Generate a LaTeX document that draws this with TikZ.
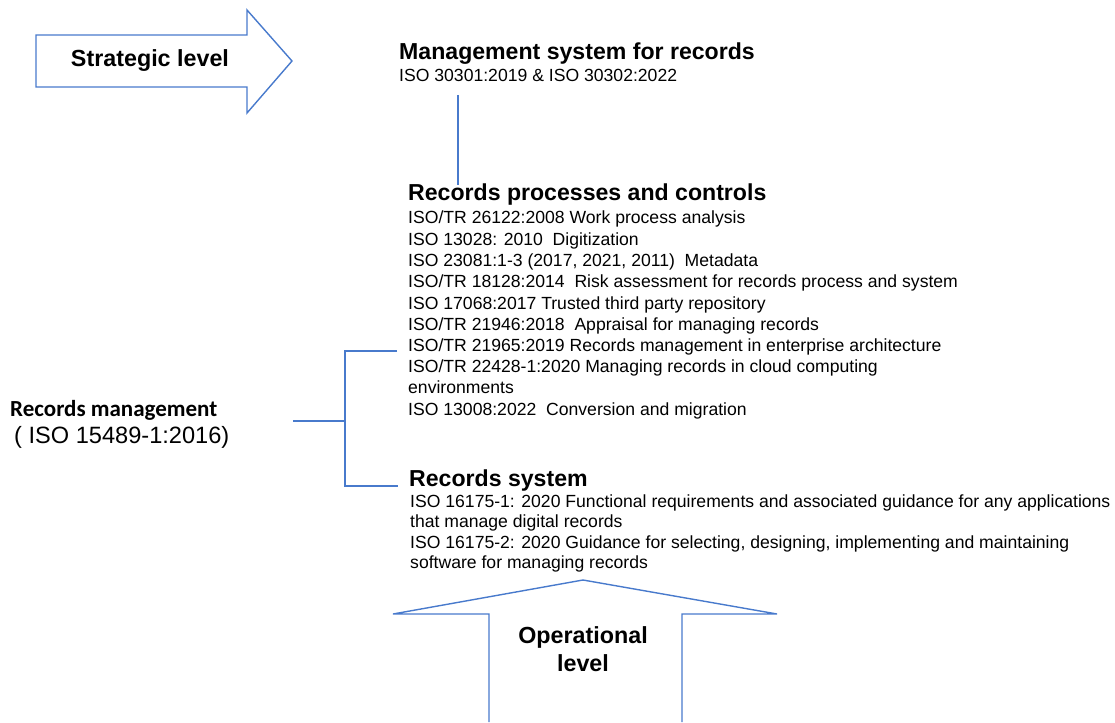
\documentclass[tikz,border=0pt]{standalone}
\usepackage{fontspec}
\setmainfont{Liberation Sans}
\newfontfamily\calfont{Carlito}
\definecolor{lineblue}{RGB}{72,122,204}
\tikzset{
  shapeline/.style={draw=lineblue, line width=1.4pt, line join=miter},
  conn/.style={draw=lineblue, line width=1.4pt},
  body/.style={anchor=base west, inner sep=0pt, font=\fontsize{17.6}{20}\selectfont},
  title/.style={anchor=base west, inner sep=0pt, font=\fontsize{23.1}{26}\selectfont\bfseries},
  big/.style={inner sep=0pt, align=center, font=\fontsize{23.3}{28}\selectfont\bfseries},
}
\begin{document}
\begin{tikzpicture}[x=1pt,y=-1pt]
\useasboundingbox (0,0) rectangle (1115,722);
% strategic arrow
\draw[shapeline] (36,35) -- (247,35) -- (247,10) -- (292,61) -- (247,113) -- (247,87) -- (36,87) -- cycle;
\node[big] (strat) at (150,61) {Strategic level};
% operational arrow
\draw[shapeline] (489,722) -- (489,614) -- (393,614) -- (583,580) -- (777,614) -- (682,614) -- (682,722);
\node[big] (oper) at (583,649) {Operational\\level};
% management system
\node[title] (mstitle) at (399,60) {Management system for records};
\node[body] (ms1) at (399,81.5) {ISO 30301:2019 \& ISO 30302:2022};
\coordinate (vtop) at (458,95);
\coordinate (vbot) at (458,185);
\draw[conn] (vtop) -- (vbot);
% records processes
\node[title] (rptitle) at (408,200.5) {Records processes and controls};
\node[body] (rp1) at (408,223) {ISO/TR 26122:2008 Work process analysis};
\node[body] (rp2) at (408,245) {ISO 13028: 2010\ \ Digitization};
\node[body] (rp3) at (408,266) {ISO 23081:1-3 (2017, 2021, 2011)\ \ Metadata};
\node[body] (rp4) at (408,287.5) {ISO/TR 18128:2014\ \ Risk assessment for records process and system};
\node[body] (rp5) at (408,309) {ISO 17068:2017 Trusted third party repository};
\node[body] (rp6) at (408,330) {ISO/TR 21946:2018\ \ Appraisal for managing records};
\node[body] (rp7) at (408,351) {ISO/TR 21965:2019 Records management in enterprise architecture};
\node[body] (rp8) at (408,372.5) {ISO/TR 22428-1:2020 Managing records in cloud computing};
\node[body] (rp9) at (408,393) {environments};
\node[body] (rp10) at (408,415) {ISO 13008:2022\ \ Conversion and migration};
% records system
\node[title] (rstitle) at (409,486) {Records system};
\node[body] (rs1) at (410,507) {ISO 16175-1: 2020 Functional requirements and associated guidance for any applications};
\node[body] (rs2) at (410,527) {that manage digital records};
\node[body] (rs3) at (410,548) {ISO 16175-2: 2020 Guidance for selecting, designing, implementing and maintaining};
\node[body] (rs4) at (410,568) {software for managing records};
% records management
\node[anchor=base west, inner sep=0pt, font=\fontsize{23}{25}\selectfont\calfont\bfseries] (rm) at (10,416) {Records management};
\node[anchor=base west, inner sep=0pt, font=\fontsize{23.6}{26}\selectfont] (rmiso) at (14,443) {( ISO 15489-1:2016)};
% bracket
\coordinate (bmid) at (293,421);
\coordinate (bj) at (345,421);
\coordinate (btop) at (345,351);
\coordinate (bbot) at (345,486);
\coordinate (btopend) at (397,351);
\coordinate (bbotend) at (398,486);
\draw[conn] (bmid) -- (bj);
\draw[conn] (btopend) -- (btop) -- (bbot) -- (bbotend);
\end{tikzpicture}
\end{document}
